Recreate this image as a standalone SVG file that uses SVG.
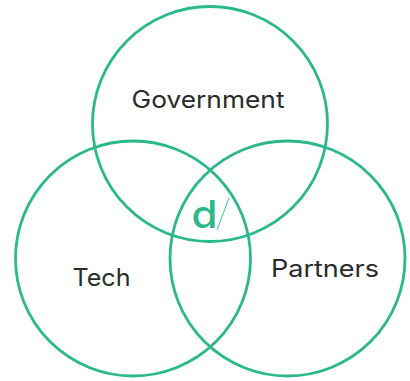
<svg xmlns="http://www.w3.org/2000/svg" width="410" height="381" viewBox="0 0 410 381">
<style>
.c{fill:none;stroke:#2bb98a;stroke-width:2.8}
.t{font-family:"Inter","Liberation Sans",sans-serif;font-size:24px;fill:#2b2b2b}
</style>
<rect width="410" height="381" fill="#fff"/>
<g id="connectors"></g>
<g id="government"><circle class="c" cx="210" cy="124" r="117.500"/><text class="t" x="131.500" y="108" textLength="153" lengthAdjust="spacingAndGlyphs">Government</text></g>
<g id="tech"><circle class="c" cx="133" cy="258.500" r="117.500"/><text class="t" x="72.500" y="286" textLength="58" lengthAdjust="spacingAndGlyphs">Tech</text></g>
<g id="partners"><circle class="c" cx="287.500" cy="258.500" r="117.500"/><text class="t" x="271" y="277" textLength="108" lengthAdjust="spacingAndGlyphs">Partners</text></g>
<g id="logo"><text x="191.500" y="228" textLength="26" lengthAdjust="spacingAndGlyphs" font-family="Inter,'Liberation Sans',sans-serif" font-size="38" font-weight="500" fill="#2bb98a">d</text><line x1="217" y1="230" x2="229" y2="198" stroke="#2bb98a" stroke-width="0.9"/></g>
</svg>
